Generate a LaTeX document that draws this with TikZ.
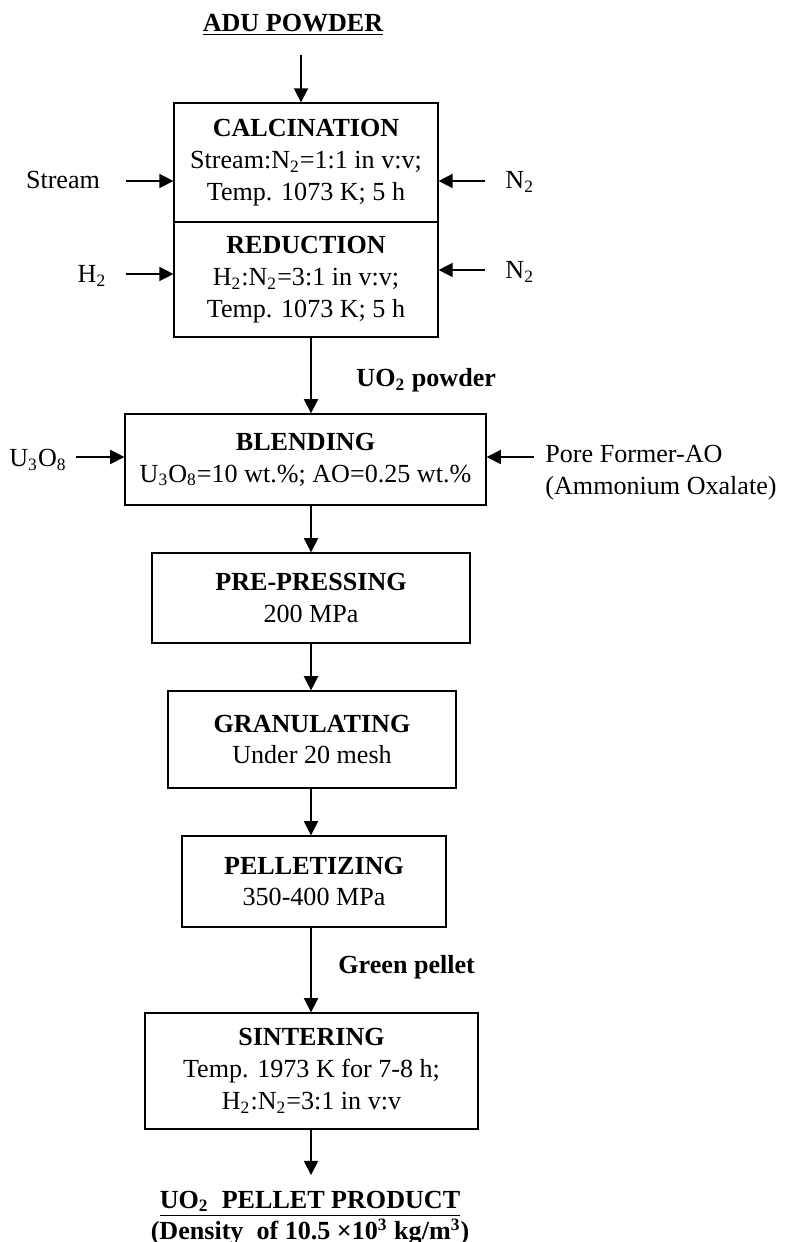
\documentclass[tikz,border=0pt]{standalone}
\usepackage{fontspec}
\setmainfont{Liberation Serif}
\usetikzlibrary{arrows.meta,positioning,calc}

\begin{document}
\begin{tikzpicture}[x=0.46pt,y=-0.46pt,
    every node/.style={inner sep=0pt,font=\fontsize{12pt}{14.7pt}\selectfont},
    box/.style={draw,line width=0.6pt,align=center},
    lbl/.style={font=\fontsize{12pt}{14.7pt}\selectfont\bfseries},
    flow/.style={line width=0.7pt,-{Triangle[length=6.5pt,width=6.5pt]}}]
    \useasboundingbox (0,0) rectangle (784,1242);
    \coordinate (spine) at (311,0);

    % Feed
    \node[lbl] (adu) at (293,25) {\underline{ADU POWDER}};
    \coordinate (aduout) at (301,55);

    % Calcination / reduction
    \node[box,minimum width=121.4pt,minimum height=54.7pt] (calc) at (306,162.5)
        {\textbf{CALCINATION}\\Stream:N\textsubscript{2}=1:1 in v:v;\\Temp. 1073 K; 5 h};
    \node[box,minimum width=121.4pt,minimum height=52.9pt] (red) at (306,279.5)
        {\textbf{REDUCTION}\\H\textsubscript{2}:N\textsubscript{2}=3:1 in v:v;\\Temp. 1073 K; 5 h};
    \draw[flow] (aduout) -- (aduout |- calc.north);

    % Gases in
    \node (stream) at (63,180) {Stream};
    \coordinate (streamin) at (126,181);
    \draw[flow] (streamin) -- (streamin -| calc.west);
    \node[anchor=west] (ncalc) at (505,182) {N\textsubscript{2}};
    \coordinate (ncalcin) at (485,181);
    \draw[flow] (ncalcin) -- (ncalcin -| calc.east);
    \node (hred) at (92,276) {H\textsubscript{2}};
    \coordinate (hredin) at (126,274);
    \draw[flow] (hredin) -- (hredin -| red.west);
    \node[anchor=west] (nred) at (505,272) {N\textsubscript{2}};
    \coordinate (nredin) at (485,270);
    \draw[flow] (nredin) -- (nredin -| red.east);

    % Blending
    \node[box,minimum width=166.1pt,minimum height=41.9pt] (blend) at (305.5,459.5)
        {\textbf{BLENDING}\\U\textsubscript{3}O\textsubscript{8}=10 wt.\%; AO=0.25 wt.\%};
    \draw[flow] (red.south -| spine) -- (blend.north -| spine);
    \node[lbl,anchor=west] (uopowder) at (356,380) {UO\textsubscript{2} powder};
    \node (uthree) at (38,460) {U\textsubscript{3}O\textsubscript{8}};
    \coordinate (uthreein) at (76,457);
    \draw[flow] (uthreein) -- (uthreein -| blend.west);
    \node[align=left,anchor=west] (pore) at (545,473) {Pore Former-AO\\(Ammonium Oxalate)};
    \coordinate (porein) at (534,457);
    \draw[flow] (porein) -- (porein -| blend.east);

    % Pressing line
    \node[box,minimum width=146.3pt,minimum height=41.4pt] (press) at (311,598)
        {\textbf{PRE-PRESSING}\\200 MPa};
    \node[box,minimum width=132.5pt,minimum height=44.6pt] (gran) at (312,739.5)
        {\textbf{GRANULATING}\\Under 20 mesh};
    \node[box,minimum width=121.4pt,minimum height=41.9pt] (pellet) at (314,881.5)
        {\textbf{PELLETIZING}\\350-400 MPa};
    \node[box,minimum width=153.2pt,minimum height=53.4pt] (sinter) at (311.5,1071)
        {\textbf{SINTERING}\\Temp. 1973 K for 7-8 h;\\H\textsubscript{2}:N\textsubscript{2}=3:1 in v:v};
    \draw[flow] (blend.south -| spine) -- (press.north -| spine);
    \draw[flow] (press.south -| spine) -- (gran.north -| spine);
    \draw[flow] (gran.south -| spine) -- (pellet.north -| spine);
    \draw[flow] (pellet.south -| spine) -- (sinter.north -| spine);
    \node[lbl,anchor=west] (green) at (338,967) {Green pellet};

    % Product
    \coordinate (prodin) at (311,1175);
    \draw[flow] (sinter.south -| spine) -- (prodin);
    \node[lbl,align=center,font=\fontsize{12pt}{13.3pt}\selectfont\bfseries] (prod) at (310,1218)
        {\underline{UO\textsubscript{2}\ \ PELLET PRODUCT}\\(Density\ \ of 10.5 ×10\textsuperscript{3} kg/m\textsuperscript{3})};
\end{tikzpicture}
\end{document}
